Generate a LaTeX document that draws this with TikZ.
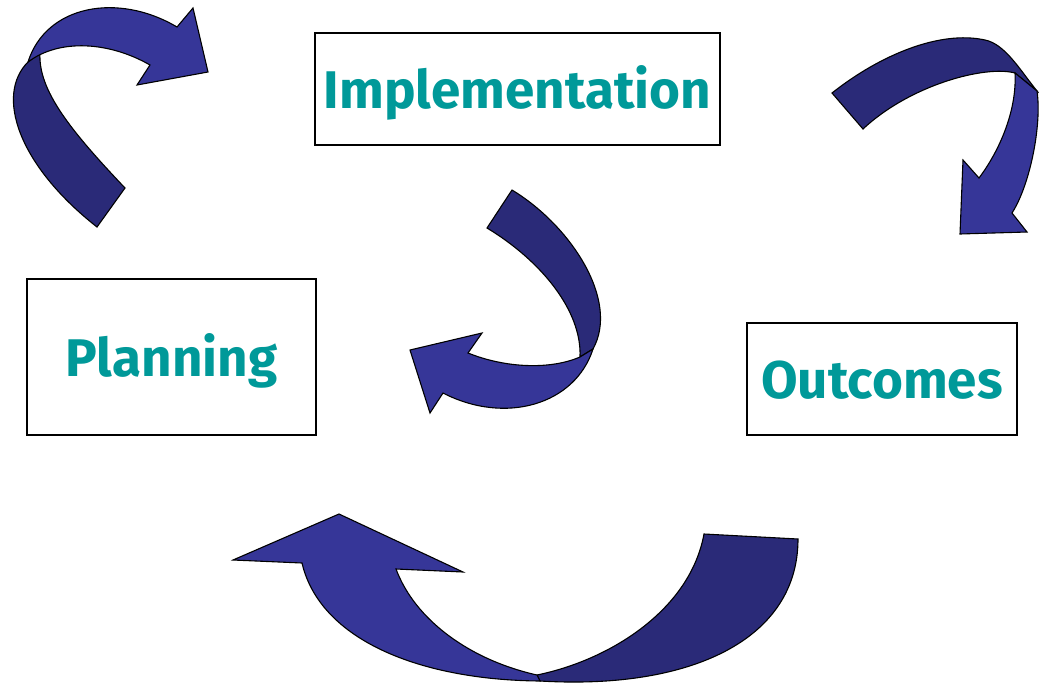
\documentclass[tikz,border=0pt]{standalone}
\usepackage{fontspec}
\setmainfont{Fira Sans}
\usepackage{tikz}

\definecolor{labelteal}{RGB}{0,153,153}
\definecolor{ribbonlight}{RGB}{54,54,152}
\definecolor{ribbondark}{RGB}{42,42,120}

\begin{document}
\begin{tikzpicture}[x=1pt, y=-1pt,
    every node/.style = {shape=rectangle, draw, line width=1.3pt,
          inner sep=0pt, text=labelteal, text height=38pt, text depth=0pt,
          font=\fontsize{53}{53}\selectfont\bfseries},
    light/.style = {fill=ribbonlight, draw=black, line width=1.1pt, line join=miter},
    dark/.style = {fill=ribbondark, draw=black, line width=1.1pt, line join=miter}]
  \useasboundingbox (0,0) rectangle (1039,683);

  \node[minimum width=405pt, minimum height=112pt] (impl) at (517.5,89) {Implementation};
  \node[minimum width=289pt, minimum height=156pt] (plan) at (171.5,357) {Planning};
  \node[minimum width=270pt, minimum height=112pt] (outc) at (882,379) {Outcomes};

  % top left
  \path[dark] (28,62) .. controls (-5,95) and (18,165) .. (97,227) -- (125,188)
    .. controls (70,130) and (38,90) .. (40,53) -- cycle;
  \path[light] (28,62) .. controls (46,5) and (118,-8) .. (177,27) -- (193,8) -- (208,72) -- (137,85)
    -- (150,65) .. controls (110,42) and (60,38) .. (28,62) -- cycle;

  % top right
  \path[dark] (832,93) .. controls (880,55) and (940,30) .. (985,40)
    .. controls (1005,44) and (1020,70) .. (1037,91) -- (1015,73)
    .. controls (985,65) and (910,85) .. (863,129) -- cycle;
  \path[light] (1015,73) -- (1037,91) .. controls (1042,125) and (1030,185) .. (1012,213)
    -- (1027,232) -- (960,234) -- (963,160) -- (979,178)
    .. controls (1000,150) and (1017,110) .. (1015,73) -- cycle;

  % middle
  \path[dark] (487,228) -- (512,190) .. controls (570,225) and (620,300) .. (593,349)
    -- (580,357) .. controls (582,310) and (540,260) .. (487,228) -- cycle;
  \path[light] (593,349) .. controls (575,405) and (505,425) .. (443,393)
    -- (430,413) -- (410,350) -- (482,333) -- (468,353)
    .. controls (505,368) and (550,370) .. (580,357) -- cycle;

  % bottom
  \path[dark] (704,534) -- (798,539) .. controls (798,640) and (690,690) .. (540,681)
    -- (537,675) .. controls (610,660) and (690,610) .. (704,534) -- cycle;
  \path[light] (233,560) -- (339,514) -- (463,572) -- (396,569)
    .. controls (415,620) and (470,660) .. (537,675) -- (540,681)
    .. controls (420,680) and (320,640) .. (302,563) -- cycle;
\end{tikzpicture}
\end{document}
